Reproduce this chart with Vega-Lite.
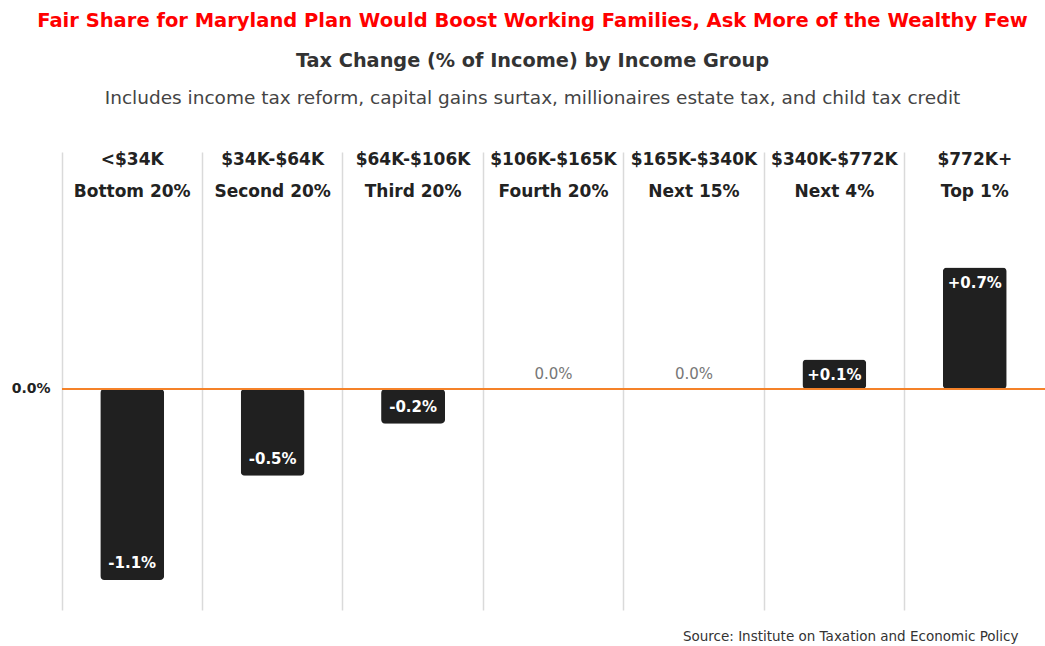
{
  "$schema": "https://vega.github.io/schema/vega-lite/v6.json",
  "width": 983,
  "height": 458,
  "autosize": {"type": "none"},
  "padding": {"left": 62, "top": 152, "right": 0, "bottom": 36},
  "background": "white",
  "config": {"view": {"stroke": null}, "font": "DejaVu Sans"},
  "title": {
    "text": "Fair Share for Maryland Plan Would Boost Working Families, Ask More of the Wealthy Few",
    "color": "#ff0000",
    "fontSize": 19.5,
    "fontWeight": "bold",
    "subtitle": "Tax Change (% of Income) by Income Group",
    "subtitleColor": "#333333",
    "subtitleFontSize": 19.3,
    "subtitleFontWeight": "bold",
    "subtitlePadding": 20,
    "anchor": "middle",
    "offset": 16,
    "dx": -21
  },
  "data": {
    "values": [
      {"range": "<$34K", "group": "Bottom 20%", "value": -1.1, "label": "-1.1%"},
      {"range": "$34K-$64K", "group": "Second 20%", "value": -0.5, "label": "-0.5%"},
      {"range": "$64K-$106K", "group": "Third 20%", "value": -0.2, "label": "-0.2%"},
      {"range": "$106K-$165K", "group": "Fourth 20%", "value": 0, "label": "0.0%"},
      {"range": "$165K-$340K", "group": "Next 15%", "value": 0, "label": "0.0%"},
      {"range": "$340K-$772K", "group": "Next 4%", "value": 0.17, "label": "+0.1%"},
      {"range": "$772K+", "group": "Top 1%", "value": 0.7, "label": "+0.7%"}
    ]
  },
  "layer": [
    {
      "transform": [{"filter": "datum.value != 0"}],
      "mark": {"type": "bar", "color": "#202020", "cornerRadius": 4, "width": {"band": 0.455}},
      "encoding": {
        "x": {
          "field": "group", "type": "nominal",
          "sort": ["Bottom 20%", "Second 20%", "Third 20%", "Fourth 20%", "Next 15%", "Next 4%", "Top 1%"],
          "scale": {"domain": ["Bottom 20%", "Second 20%", "Third 20%", "Fourth 20%", "Next 15%", "Next 4%", "Top 1%"], "paddingInner": 0, "paddingOuter": 0},
          "axis": {
            "orient": "top", "labels": false, "ticks": false, "domain": false,
            "grid": true, "gridColor": "#dadada", "gridWidth": 1.5, "bandPosition": 0,
            "title": "Includes income tax reform, capital gains surtax, millionaires estate tax, and child tax credit",
            "titleFontSize": 18.5, "titleFontWeight": "normal", "titleColor": "#444444",
            "titlePadding": 45, "titleX": 470
          }
        },
        "y": {
          "field": "value", "type": "quantitative",
          "scale": {"domain": [-1.273, 1.365], "nice": false, "zero": false},
          "axis": {
            "values": [0], "labelExpr": "format(datum.value, '.1f') + '%'",
            "domain": false, "ticks": false, "grid": false, "title": null,
            "labelFontWeight": "bold", "labelFontSize": 14, "labelColor": "#222222", "labelPadding": 12
          }
        }
      }
    },
    {
      "mark": {"type": "rule", "color": "#f5822a", "strokeWidth": 1.5},
      "encoding": {"y": {"datum": 0}}
    },
    {
      "transform": [{"filter": "datum.value > 0"}],
      "mark": {"type": "text", "baseline": "top", "dy": 9, "color": "white", "fontWeight": "bold", "fontSize": 15},
      "encoding": {
        "x": {"field": "group", "type": "nominal"},
        "y": {"field": "value", "type": "quantitative"},
        "text": {"field": "label"}
      }
    },
    {
      "transform": [{"filter": "datum.value < 0"}],
      "mark": {"type": "text", "baseline": "bottom", "dy": -9, "color": "white", "fontWeight": "bold", "fontSize": 15},
      "encoding": {
        "x": {"field": "group", "type": "nominal"},
        "y": {"field": "value", "type": "quantitative"},
        "text": {"field": "label"}
      }
    },
    {
      "transform": [{"filter": "datum.value == 0"}],
      "mark": {"type": "text", "baseline": "bottom", "dy": -7, "color": "#777777", "fontSize": 15},
      "encoding": {
        "x": {"field": "group", "type": "nominal"},
        "y": {"field": "value", "type": "quantitative"},
        "text": {"field": "label"}
      }
    },
    {
      "mark": {"type": "text", "baseline": "middle", "color": "#222222", "fontWeight": "bold", "fontSize": 17},
      "encoding": {
        "x": {"field": "group", "type": "nominal"},
        "y": {"datum": 1.319},
        "text": {"field": "range"}
      }
    },
    {
      "mark": {"type": "text", "baseline": "middle", "color": "#222222", "fontWeight": "bold", "fontSize": 17},
      "encoding": {
        "x": {"field": "group", "type": "nominal"},
        "y": {"datum": 1.135},
        "text": {"field": "group"}
      }
    },
    {
      "data": {"values": [{"note": "Source: Institute on Taxation and Economic Policy"}]},
      "mark": {"type": "text", "align": "left", "baseline": "middle", "dx": -11, "color": "#333333", "fontSize": 13.5},
      "encoding": {
        "x": {"datum": "Next 15%"},
        "y": {"datum": -1.43},
        "text": {"field": "note"}
      }
    }
  ]
}
